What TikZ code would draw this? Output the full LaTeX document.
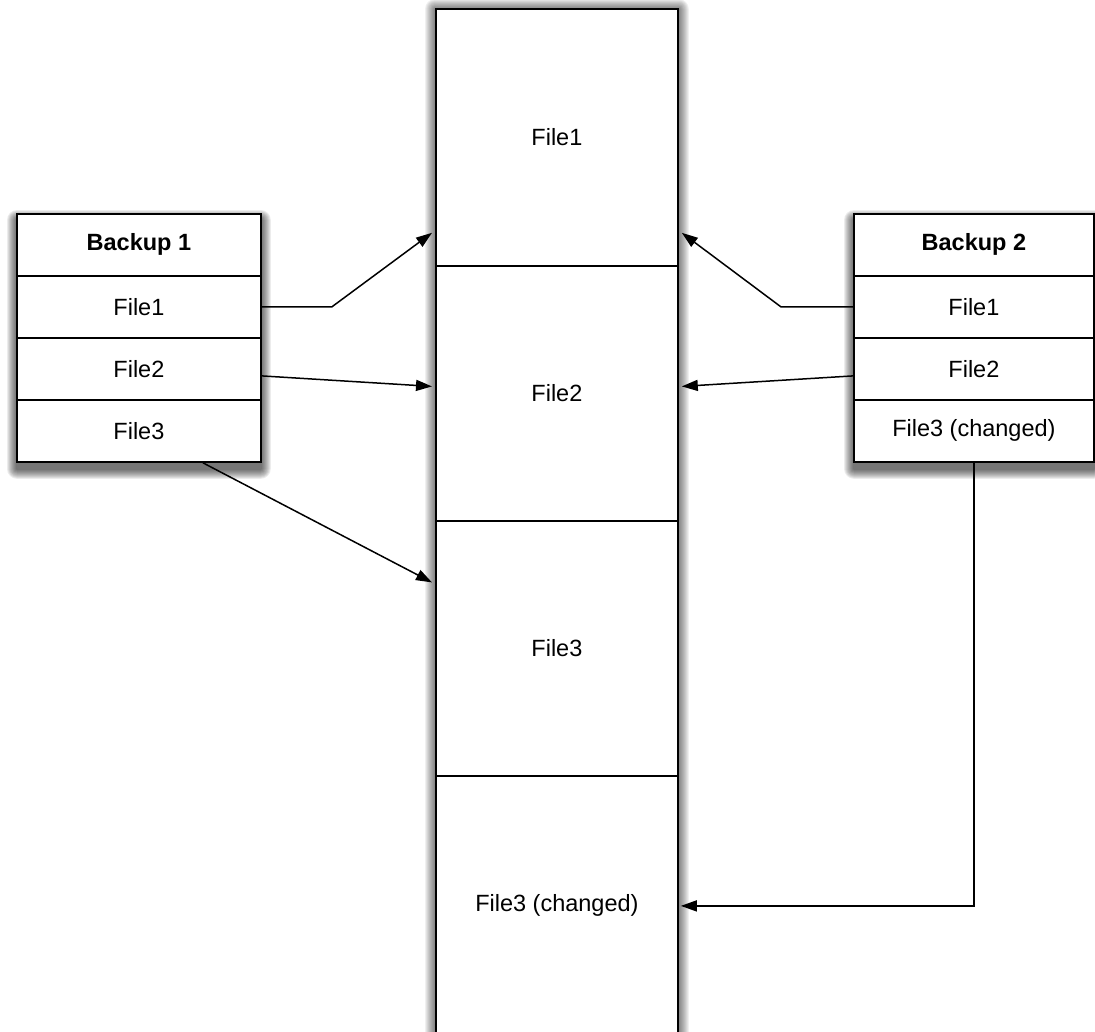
\documentclass[tikz,border=0pt]{standalone}
\usepackage{fontspec}
\setmainfont{Liberation Sans}
\usetikzlibrary{arrows.meta,calc,backgrounds}
\begin{document}
\begin{tikzpicture}[x=1pt,y=-1pt,
  txt/.style={font=\fontsize{23.5}{26}\selectfont},
  cell/.style={draw=black, line width=1.8pt, fill=white, inner sep=0pt, anchor=north west, txt},
  arr/.style={draw=black, line width=1.5pt, -{Triangle[length=16pt,width=11pt]}}
]
\useasboundingbox (0,0) rectangle (1095,1031);

% storage column
\node[cell, minimum width=242pt, minimum height=257pt] (c1) at (435,8) {File1};
\node[cell, minimum width=242pt, minimum height=255pt] (c2) at (435,265) {File2};
\node[cell, minimum width=242pt, minimum height=255pt] (c3) at (435,520) {File3};
\node[cell, minimum width=242pt, minimum height=260pt] (c4) at (435,775) {File3 (changed)};

% first backup
\node[cell, minimum width=244pt, minimum height=62pt] (b1h) at (16,213) {\bfseries Backup 1};
\node[cell, minimum width=244pt, minimum height=62pt] (b1f1) at (16,275) {File1};
\node[cell, minimum width=244pt, minimum height=62pt] (b1f2) at (16,337) {File2};
\node[cell, minimum width=244pt, minimum height=62pt] (b1f3) at (16,399) {File3};

% second backup
\node[cell, minimum width=240pt, minimum height=62pt] (b2h) at (853,213) {\bfseries Backup 2};
\node[cell, minimum width=240pt, minimum height=62pt] (b2f1) at (853,275) {File1};
\node[cell, minimum width=240pt, minimum height=62pt] (b2f2) at (853,337) {File2};
\node[cell, minimum width=240pt, minimum height=62pt] (b2f3) at (853,399) {File3 (changed)};

% soft shadows behind the boxes
\begin{scope}[on background layer]
  \foreach \r in {1,...,10} {
    \fill[black, opacity=0.06, rounded corners=\r pt]
      ($(c1.north west)+(-\r,-\r+1)$) rectangle ($(c4.south east)+(\r,\r)$);
    \fill[black, opacity=0.075, rounded corners=\r pt]
      ($(b1h.north west)+(-\r+1,-\r+7)$) rectangle ($(b1f3.south east)+(\r-1,\r+6)$);
    \fill[black, opacity=0.075, rounded corners=\r pt]
      ($(b2h.north west)+(-\r+1,-\r+7)$) rectangle ($(b2f3.south east)+(\r-1,\r+6)$);
  }
\end{scope}

% references from backup 1
\draw[arr] (b1f1.east) -- ($(b1f1.east)+(70,0)$) -- ($(c1.south west)+(-3,-34)$);
\draw[arr] ($(b1f2.east)+(0,7)$) -- ($(c2.west)+(-3,-7)$);
\draw[arr] ($(b1f3.south)+(64,0)$) -- ($(c3.west)+(-3,-66)$);

% references from backup 2
\draw[arr] (b2f1.west) -- ($(b2f1.west)+(-72,0)$) -- ($(c1.south east)+(3,-34)$);
\draw[arr] ($(b2f2.west)+(0,7)$) -- ($(c2.east)+(3,-7)$);
\draw[arr, shorten >=2pt] (b2f3.south) |- (c4.east);
\end{tikzpicture}
\end{document}
